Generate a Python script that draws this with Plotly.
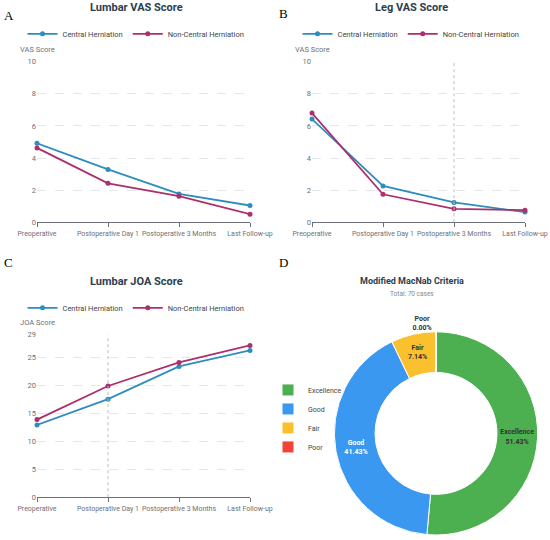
import plotly.graph_objects as go

# time points shared by the three line charts
stages = ['Preoperative', 'Postoperative Day 1', 'Postoperative 3 Months', 'Last Follow-up']

# A: lumbar VAS
lumbar_vas_central = [4.92, 3.29, 1.76, 1.04]
lumbar_vas_noncentral = [4.63, 2.42, 1.62, 0.50]

# B: leg VAS
leg_vas_central = [6.43, 2.26, 1.23, 0.63]
leg_vas_noncentral = [6.80, 1.74, 0.83, 0.75]

# C: lumbar JOA
joa_central = [12.9, 17.5, 23.35, 26.2]
joa_noncentral = [13.85, 19.85, 24.05, 27.1]

# D: modified MacNab criteria (cases)
macnab_labels = ['Excellence', 'Good', 'Fair', 'Poor']
macnab_counts = [36, 29, 5, 0]

C_BLUE = '#2d8dbf'
C_RED = '#ad2f6d'
AX_GRAY = '#6e7079'
GRID = '#e3e6ec'
FONT = 'Roboto'


def px_x(p):
    return p / 550


def px_y(p):
    return 1 - p / 540


fig = go.Figure()

panels = [
    # (central, non-central, xaxis, yaxis, legend)
    (lumbar_vas_central, lumbar_vas_noncentral, 'x', 'y', 'legend'),
    (leg_vas_central, leg_vas_noncentral, 'x2', 'y2', 'legend2'),
    (joa_central, joa_noncentral, 'x3', 'y3', 'legend3'),
]
for cen, non, xa, ya, lg in panels:
    fig.add_trace(go.Scatter(x=stages, y=cen, name='Central Herniation', mode='lines+markers',
                             line=dict(color=C_BLUE, width=1.8), marker=dict(size=5, color=C_BLUE),
                             cliponaxis=False, xaxis=xa, yaxis=ya, legend=lg))
    fig.add_trace(go.Scatter(x=stages, y=non, name='Non-Central Herniation', mode='lines+markers',
                             line=dict(color=C_RED, width=1.8), marker=dict(size=5, color=C_RED),
                             cliponaxis=False, xaxis=xa, yaxis=ya, legend=lg))

fig.add_trace(go.Pie(
    labels=macnab_labels, values=macnab_counts, hole=0.6, sort=False,
    direction='clockwise', rotation=0,
    marker=dict(colors=['#4caf50', '#3a98f0', '#fbc02d', '#f44336'],
                line=dict(color='white', width=1)),
    texttemplate='<b>%{label}</b><br><b>%{percent:.2%}</b>',
    textposition=['inside', 'inside', 'inside', 'outside'],
    insidetextorientation='horizontal',
    textfont=dict(size=7, color=['#333333', 'white', '#333333', '#333333'], family=FONT),
    domain=dict(x=[px_x(334), px_x(538)], y=[px_y(537), px_y(333)]),
    legend='legend4', showlegend=True, hoverinfo='label+value+percent',
))

xdom_left = [px_x(37), px_x(250)]
xdom_right = [px_x(312), px_x(525)]
ydom_top = [px_y(223), px_y(62)]
ydom_bot = [px_y(499), px_y(336)]

xcommon = dict(type='category', range=[0, 3], showgrid=False, showline=True, linecolor=AX_GRAY,
               ticks='outside', ticklen=4, tickcolor=AX_GRAY, zeroline=False, tickangle=0,
               automargin=False, tickfont=dict(size=7, color=AX_GRAY, family=FONT))
ycommon = dict(showgrid=True, gridcolor=GRID, griddash='dash', showline=False, zeroline=False,
               automargin=False, tickfont=dict(size=7.5, color=AX_GRAY, family=FONT), ticks='')

fig.update_layout(
    width=550, height=540, margin=dict(l=0, r=0, t=0, b=0),
    paper_bgcolor='white', plot_bgcolor='white',
    font=dict(family=FONT, color='#444444'),
    uniformtext=dict(minsize=7, mode='show'),
    xaxis=dict(domain=xdom_left, anchor='y', **xcommon),
    yaxis=dict(domain=ydom_top, anchor='x', range=[0, 10], dtick=2, **ycommon),
    xaxis2=dict(domain=xdom_right, anchor='y2', **xcommon),
    yaxis2=dict(domain=ydom_top, anchor='x2', range=[0, 10], dtick=2, **ycommon),
    xaxis3=dict(domain=xdom_left, anchor='y3', **xcommon),
    yaxis3=dict(domain=ydom_bot, anchor='x3', range=[0, 29],
                tickvals=[0, 5, 10, 15, 20, 25, 29], **ycommon),
)

leg_common = dict(orientation='h', xanchor='center', yanchor='middle', bgcolor='rgba(0,0,0,0)',
                  font=dict(size=7.5, color='#444444', family=FONT), itemwidth=30)
fig.update_layout(
    legend=dict(x=px_x(136), y=px_y(34), **leg_common),
    legend2=dict(x=px_x(411), y=px_y(34), **leg_common),
    legend3=dict(x=px_x(136), y=px_y(309), **leg_common),
    legend4=dict(orientation='v', x=px_x(268), y=px_y(420), xanchor='left', yanchor='middle',
                 font=dict(size=7, color='#444444', family=FONT), tracegroupgap=0,
                 bgcolor='rgba(0,0,0,0)'),
)

# hover guide lines seen in panels B and C
fig.add_shape(type='line', xref='x2', yref='y2 domain', x0=2, x1=2, y0=0, y1=1,
              line=dict(color='#b8bcc6', width=1, dash='dot'))
fig.add_shape(type='line', xref='x3', yref='y3 domain', x0=1, x1=1, y0=0, y1=1,
              line=dict(color='#b8bcc6', width=1, dash='dot'))

titles = [
    ('Lumbar VAS Score', 136, 8, 11),
    ('Leg VAS Score', 411, 8, 11),
    ('Lumbar JOA Score', 136, 283, 11),
    ('Modified MacNab Criteria', 412, 282, 9),
]
for txt, x, y, sz in titles:
    fig.add_annotation(text='<b>%s</b>' % txt, x=px_x(x), y=px_y(y), xref='paper', yref='paper',
                       showarrow=False, xanchor='center', yanchor='middle',
                       font=dict(size=sz, color='#2c3e50', family=FONT))
fig.add_annotation(text='Total: 70 cases', x=px_x(412), y=px_y(295), xref='paper', yref='paper',
                   showarrow=False, xanchor='center', yanchor='middle',
                   font=dict(size=6.5, color='#888888', family=FONT))

axis_names = [('VAS Score', 37, 50), ('VAS Score', 312, 50), ('JOA Score', 37, 324)]
for txt, x, y in axis_names:
    fig.add_annotation(text=txt, x=px_x(x), y=px_y(y), xref='paper', yref='paper',
                       showarrow=False, xanchor='center', yanchor='middle',
                       font=dict(size=7.5, color=AX_GRAY, family=FONT))

letters = [('A', 9, 16), ('B', 283, 14), ('C', 8, 263), ('D', 283, 263)]
for txt, x, y in letters:
    fig.add_annotation(text=txt, x=px_x(x), y=px_y(y), xref='paper', yref='paper',
                       showarrow=False, xanchor='center', yanchor='middle',
                       font=dict(size=13, color='black', family='Liberation Serif'))

# drop the page's default body margin so the figure sits at the window corner
fig.write_html('out.html', config={'displayModeBar': False},
               post_script="document.body.style.margin='0';")
